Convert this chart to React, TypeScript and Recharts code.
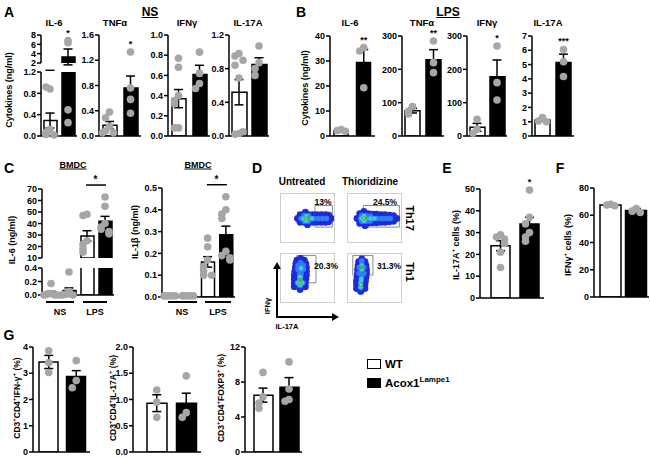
import React from 'react';
import {
  ComposedChart,
  ScatterChart,
  Bar,
  Scatter,
  ErrorBar,
  XAxis,
  YAxis,
  Cell,
  ReferenceArea,
} from 'recharts';

const FONT = '"Liberation Sans", Arial, Helvetica, sans-serif';
const DOT_FILL = '#a6a6a6';
const PAIR = ['#ffffff', '#000000'];
const QUAD = ['#ffffff', '#000000', '#ffffff', '#000000'];

// A: NS cytokines (ng/ml), WT vs Acox1
const nsIl6Mean = [0.29, 3.3];
const nsIl6Sem = [0.14, 1.7];
const nsIl6Dots = [[0.88, 0.92, 0.12, 0.07, 0.03, 0.02], [6.8, 6.35, 0.49, 0.25]];
const nsTnfMean = [0.17, 0.76];
const nsTnfSem = [0.06, 0.19];
const nsTnfDots = [[0.38, 0.29, 0.15, 0.08, 0.05, 0.05], [1.33, 0.76, 0.58, 0.36]];
const nsIfnMean = [0.37, 0.61];
const nsIfnSem = [0.09, 0.09];
const nsIfnDots = [[0.77, 0.68, 0.4, 0.35, 0.32, 0.08, 0.08], [0.83, 0.62, 0.52, 0.47]];
const nsIl17Mean = [0.52, 0.85];
const nsIl17Sem = [0.15, 0.08];
const nsIl17Dots = [[0.98, 0.95, 0.9, 0.84, 0.69, 0.03, 0.02, 0.05], [1.07, 0.87, 0.8, 0.72]];

// B: LPS cytokines (ng/ml)
const lpsIl6Mean = [2.2, 29.4];
const lpsIl6Sem = [0.3, 5.2];
const lpsIl6Dots = [[2.6, 2.2, 1.9], [35.4, 34, 19.3]];
const lpsTnfMean = [76, 229];
const lpsTnfSem = [7, 30];
const lpsTnfDots = [[88, 74, 66], [285, 220, 190]];
const lpsIfnMean = [26, 178];
const lpsIfnSem = [12, 50];
const lpsIfnDots = [[50, 20, 8], [270, 160, 108]];
const lpsIl17Mean = [1.12, 5.15];
const lpsIl17Sem = [0.07, 0.58];
const lpsIl17Dots = [[1.3, 1.05, 1.0], [6.06, 5.2, 4.17]];

// C: BMDC (NS WT, NS KO, LPS WT, LPS KO)
const bmdcIl6Mean = [0.035, 0.065, 29.2, 42];
const bmdcIl6Sem = [0.02, 0.04, 4.5, 4.2];
const bmdcIl6Dots = [
  [0.17, 0.02, 0.01, 0.0, 0.0, 0.0],
  [0.34, 0.05, 0.02, 0.01, 0.0, 0.0],
  [48, 47, 25, 22, 18, 15],
  [63, 55, 40, 37, 35, 33, 31],
];
const bmdcIl1Mean = [0.005, 0.005, 0.161, 0.285];
const bmdcIl1Sem = [0.001, 0.001, 0.024, 0.04];
const bmdcIl1Dots = [
  [0.005, 0.005, 0.005, 0.005],
  [0.005, 0.005, 0.005, 0.005],
  [0.27, 0.23, 0.17, 0.14, 0.12, 0.1, 0.1],
  [0.46, 0.4, 0.38, 0.36, 0.21, 0.19, 0.18, 0.17],
];

// E, F: % cells
const il17CellsMean = [24, 34];
const il17CellsSem = [2.3, 3];
const il17CellsDots = [[29, 28, 27, 25, 21, 14], [49.5, 37, 34, 30, 28, 26]];
const ifnCellsMean = [67.5, 63.5];
const ifnCellsSem = [0.6, 1.5];
const ifnCellsDots = [[68, 67.5, 67], [65, 63, 62]];

// G: in vivo T cell subsets (%)
const cd4IfnMean = [3.43, 2.88];
const cd4IfnSem = [0.25, 0.22];
const cd4IfnDots = [[3.86, 3.4, 3.03], [3.48, 2.72, 2.45]];
const cd4Il17Mean = [0.93, 0.93];
const cd4Il17Sem = [0.16, 0.19];
const cd4Il17Dots = [[1.18, 0.95, 0.66], [1.45, 0.75, 0.66]];
const cd4FoxMean = [6.5, 7.4];
const cd4FoxSem = [0.8, 1.1];
const cd4FoxDots = [[9.1, 6.3, 5.6, 5.0], [10.3, 7.2, 6.0, 5.8]];

// D: flow cytometry events (arbitrary log units, 0-5), per density layer
const th17Untreated = [
  [[1.8, 2.85], [2.2, 2.85], [2.6, 2.85], [3.0, 2.85], [3.4, 2.85], [3.8, 2.85], [4.2, 2.85], [4.5, 2.8],
   [1.8, 2.05], [2.2, 2.05], [2.6, 2.05], [3.0, 2.05], [3.4, 2.05], [3.8, 2.05], [4.2, 2.05], [4.5, 2.1],
   [1.55, 2.45], [4.75, 2.45], [2.3, 3.1], [2.5, 1.8]],
  [[1.9, 2.45], [2.3, 2.45], [2.7, 2.45], [3.1, 2.45], [3.5, 2.45], [3.9, 2.45], [4.3, 2.45], [2.2, 2.75], [2.6, 2.75], [2.2, 2.15], [2.6, 2.15]],
  [[2.1, 2.45], [2.5, 2.45], [2.9, 2.45], [2.4, 2.7], [2.4, 2.2]],
  [[2.35, 2.45], [2.6, 2.5]],
  [[2.35, 2.45]],
];
const th17Thio = [
  [[1.1, 2.95], [1.5, 2.95], [1.9, 2.95], [2.3, 2.9], [2.7, 2.9], [3.1, 2.85], [3.5, 2.85], [3.9, 2.8], [4.3, 2.75],
   [1.1, 1.95], [1.5, 1.95], [1.9, 1.95], [2.3, 2.0], [2.7, 2.0], [3.1, 2.05], [3.5, 2.05], [3.9, 2.1], [4.3, 2.15],
   [0.85, 2.45], [4.6, 2.45], [1.5, 3.2], [1.6, 1.7]],
  [[1.2, 2.45], [1.6, 2.45], [2.0, 2.45], [2.4, 2.45], [2.8, 2.45], [3.2, 2.45], [3.6, 2.45], [4.0, 2.45], [1.3, 2.75], [1.7, 2.75], [2.1, 2.7], [1.3, 2.15], [1.7, 2.15], [2.1, 2.2]],
  [[1.3, 2.45], [1.7, 2.45], [2.1, 2.45], [2.5, 2.45], [1.5, 2.7], [1.5, 2.2]],
  [[1.5, 2.45], [1.7, 2.5]],
  [[1.5, 2.45]],
];
const th1Untreated = [
  [[1.25, 1.6], [1.25, 2.0], [1.25, 2.4], [1.25, 2.8], [1.3, 3.2], [1.35, 3.6], [1.4, 4.0], [1.5, 4.35],
   [2.3, 1.6], [2.3, 2.0], [2.35, 2.4], [2.4, 2.8], [2.4, 3.2], [2.4, 3.6], [2.35, 4.0], [2.2, 4.35],
   [1.8, 1.3], [1.85, 4.55]],
  [[1.8, 1.7], [1.8, 2.1], [1.8, 2.5], [1.85, 2.9], [1.9, 3.3], [1.9, 3.7], [1.85, 4.1], [1.55, 2.0], [2.05, 2.0], [1.6, 3.4], [2.1, 3.4], [1.6, 3.8], [2.1, 3.8]],
  [[1.8, 1.8], [1.8, 2.2], [1.8, 2.6], [1.6, 2.0], [2.0, 2.0], [1.9, 3.5]],
  [[1.8, 2.0], [1.85, 2.3]],
  [[1.8, 2.0]],
];
const th1Thio = [
  [[0.8, 1.4], [0.8, 1.8], [0.8, 2.2], [0.85, 2.6], [0.9, 3.0], [0.9, 3.4], [0.95, 3.8], [1.0, 4.2],
   [1.6, 1.4], [1.6, 1.8], [1.65, 2.2], [1.7, 2.6], [1.75, 3.0], [1.75, 3.4], [1.7, 3.8], [1.6, 4.2],
   [1.2, 1.1], [1.3, 4.5]],
  [[1.2, 1.5], [1.2, 1.9], [1.25, 2.3], [1.3, 2.7], [1.3, 3.1], [1.3, 3.5], [1.3, 3.9], [1.3, 4.3], [1.05, 3.0], [1.5, 3.0], [1.05, 3.6], [1.5, 3.6]],
  [[1.2, 1.6], [1.2, 2.0], [1.25, 2.4], [1.3, 3.4], [1.3, 3.8]],
  [[1.2, 1.8], [1.3, 3.6]],
  [[1.2, 1.8]],
];
const gateTh17Untreated = [3.2, 4.85, 1.55, 3.8];
const gateTh17Thio = [1.45, 4.85, 1.55, 3.8];
const gateTh1Untreated = [1.5, 3.3, 2.0, 4.85];
const gateTh1Thio = [0.45, 2.35, 2.8, 4.85];

const FLOW_LAYERS = [
  { fill: '#1f2ad8', r: 3.4 },
  { fill: '#2f7df5', r: 2.8 },
  { fill: '#3ccbe8', r: 2.3 },
  { fill: '#39b54a', r: 2.1 },
  { fill: '#e4e43a', r: 0.9 },
];

const SPREAD = [0, -4, 4, -7, 7, -2, 2];

function DotShape(props: any) {
  const { cx, cy, payload, starLine } = props;
  if (cx == null || cy == null) return <g />;
  const dx = SPREAD[payload.k % SPREAD.length];
  return (
    <g>
      <circle cx={cx + dx} cy={cy} r={3.8} fill={DOT_FILL} />
      {payload.s && starLine ? (
        <g>
          <line x1={cx - starLine} x2={cx + 1} y1={cy - 12} y2={cy - 12} stroke="#000" strokeWidth={1.5} />
          <text x={cx - starLine / 2} y={cy - 14} textAnchor="middle" fontSize={10} fontWeight={700} fontFamily={FONT}>
            {payload.s}
          </text>
        </g>
      ) : payload.s ? (
        <text x={cx} y={cy - 5} textAnchor="middle" fontSize={9} fontWeight={700} fontFamily={FONT}>
          {payload.s}
        </text>
      ) : null}
    </g>
  );
}

type MiniProps = {
  x: number;
  top: number;
  bottom: number;
  w: number;
  pad?: number;
  domain: [number, number];
  ticks: number[];
  digits?: number;
  means: number[];
  sems: number[];
  dots: number[][];
  fills: string[];
  barW: number;
  star?: string;
  starLine?: number;
  base?: boolean;
};

function MiniBar(p: MiniProps) {
  const axisW = 28;
  const mt = 18;
  const mr = 4;
  const mb = 6;
  const [lo, hi] = p.domain;
  const cats = p.means.map((_, i) => `g${i}`);
  const thr = (hi - lo) * 0.07;
  const last = p.dots.length - 1;
  const topDot = Math.max(...p.dots[last]);
  const bars = p.means.map((m, i) => ({ c: cats[i], m: m >= lo ? m : null }));
  const errs = p.means.map((m, i) => ({ c: cats[i], m, e: p.sems[i] }));
  const pts = p.dots.flatMap((vals, i) =>
    vals
      .map((v, j) => ({
        c: cats[i],
        v,
        k: vals.slice(0, j).filter((u) => Math.abs(u - v) < thr).length,
        s: p.star && i === last && v === topDot ? p.star : null,
      }))
      .filter((d) => d.v >= lo && d.v <= hi)
  );
  const base = p.base !== false;
  const height = p.bottom - p.top + mt + 2 + mb;
  const axisStyle = { stroke: '#000', strokeWidth: 1.5 };
  return (
    <div style={{ position: 'absolute', left: p.x - axisW, top: p.top - mt }}>
      <ComposedChart
        width={axisW + p.w + mr}
        height={height}
        data={bars}
        margin={{ top: mt, right: mr, bottom: mb, left: 0 }}
      >
        <XAxis
          dataKey="c"
          type="category"
          allowDuplicatedCategory={false}
          height={2}
          tick={false}
          tickLine={false}
          axisLine={base ? axisStyle : false}
          padding={{ left: p.pad || 0, right: 0 }}
        />
        <YAxis
          yAxisId="v"
          orientation="left"
          type="number"
          domain={p.domain}
          ticks={p.ticks}
          interval={0}
          width={axisW}
          tickSize={4}
          tickMargin={1}
          axisLine={axisStyle}
          tickLine={axisStyle}
          tickFormatter={(v: number) => v.toFixed(p.digits || 0)}
          tick={{ fontSize: 9, fontWeight: 700, fill: '#000', fontFamily: FONT }}
        />
        <YAxis
          yAxisId="o"
          orientation="right"
          type="number"
          domain={p.domain}
          allowDataOverflow
          width={0}
          tick={false}
          tickLine={false}
          axisLine={false}
        />
        <Bar yAxisId="o" dataKey="m" barSize={p.barW} stroke="#000" strokeWidth={1.5} isAnimationActive={false}>
          {bars.map((b, i) => (
            <Cell key={b.c} fill={p.fills[i]} />
          ))}
        </Bar>
        <Scatter
          yAxisId="v"
          data={pts}
          dataKey="v"
          isAnimationActive={false}
          shape={(s: any) => <DotShape {...s} starLine={p.starLine} />}
        />
        <Scatter yAxisId="o" data={errs} dataKey="m" isAnimationActive={false} shape={() => <g />}>
          <ErrorBar dataKey="e" direction="y" width={4.5} stroke="#000" strokeWidth={1.5} />
        </Scatter>
      </ComposedChart>
    </div>
  );
}

function FlowPlot({ left, top, layers, gate }: { left: number; top: number; layers: number[][][]; gate: number[] }) {
  return (
    <div
      style={{
        position: 'absolute',
        left,
        top,
        width: 55,
        height: 50,
        border: '1px solid #cfcfcf',
        boxSizing: 'border-box',
      }}
    >
      <ScatterChart width={53} height={48} margin={{ top: 0, right: 0, bottom: 0, left: 0 }}>
        <XAxis type="number" dataKey="x" domain={[0, 5]} hide />
        <YAxis type="number" dataKey="y" domain={[0, 5]} hide />
        {layers.map((pts, i) => (
          <Scatter
            key={i}
            data={pts.map(([x, y]) => ({ x, y }))}
            isAnimationActive={false}
            shape={(s: any) => <circle cx={s.cx} cy={s.cy} r={FLOW_LAYERS[i].r} fill={FLOW_LAYERS[i].fill} />}
          />
        ))}
        <ReferenceArea x1={gate[0]} x2={gate[1]} y1={gate[2]} y2={gate[3]} fill="none" stroke="#8c8c8c" strokeWidth={1} />
      </ScatterChart>
    </div>
  );
}

function Txt({ x, y, size = 9, weight = 700, u = false, children }: any) {
  return (
    <div
      style={{
        position: 'absolute',
        left: x,
        top: y,
        transform: 'translate(-50%, -50%)',
        fontSize: size,
        fontWeight: weight,
        textDecoration: u ? 'underline' : 'none',
        whiteSpace: 'nowrap',
        lineHeight: 1,
      }}
    >
      {children}
    </div>
  );
}

function VTxt({ x, y, size = 9, weight = 700, rot = -90, children }: any) {
  return (
    <div
      style={{
        position: 'absolute',
        left: x,
        top: y,
        transform: `translate(-50%, -50%) rotate(${rot}deg)`,
        fontSize: size,
        fontWeight: weight,
        whiteSpace: 'nowrap',
        lineHeight: 1,
      }}
    >
      {children}
    </div>
  );
}

function HLine({ x1, x2, y }: { x1: number; x2: number; y: number }) {
  return <div style={{ position: 'absolute', left: x1, top: y, width: x2 - x1, height: 1.5, background: '#000' }} />;
}

export default function App() {
  return (
    <div
      style={{
        position: 'absolute',
        left: 0,
        top: 0,
        width: 650,
        height: 458,
        overflow: 'hidden',
        background: '#fff',
        fontFamily: FONT,
        color: '#000',
      }}
    >
      {/* Panel A */}
      <Txt x={9} y={12} size={14}>A</Txt>
      <Txt x={150} y={12} size={12} u>NS</Txt>
      <VTxt x={9} y={90} size={9}>Cytokines (ng/ml)</VTxt>
      <Txt x={54} y={23} size={9.5}>IL-6</Txt>
      <Txt x={115} y={23} size={9.5}>TNFα</Txt>
      <Txt x={187} y={23} size={9.5}>IFNγ</Txt>
      <Txt x={248} y={23} size={9.5}>IL-17A</Txt>
      <MiniBar x={41} top={35} bottom={63} w={36} base={false} domain={[2, 8]} ticks={[2, 4, 6, 8]}
        means={nsIl6Mean} sems={nsIl6Sem} dots={nsIl6Dots} fills={PAIR} barW={13} star="*" />
      <MiniBar x={41} top={72} bottom={136} w={36} domain={[0, 1.2]} ticks={[0, 0.4, 0.8, 1.2]} digits={1}
        means={nsIl6Mean} sems={nsIl6Sem} dots={nsIl6Dots} fills={PAIR} barW={13} />
      <MiniBar x={99} top={35} bottom={136} w={42} domain={[0, 1.6]} ticks={[0, 0.4, 0.8, 1.2, 1.6]} digits={1}
        means={nsTnfMean} sems={nsTnfSem} dots={nsTnfDots} fills={PAIR} barW={14} star="*" />
      <MiniBar x={168} top={35} bottom={136} w={42} domain={[0, 1]} ticks={[0, 0.2, 0.4, 0.6, 0.8, 1]} digits={1}
        means={nsIfnMean} sems={nsIfnSem} dots={nsIfnDots} fills={PAIR} barW={14} />
      <MiniBar x={229} top={35} bottom={136} w={40} domain={[0, 1.2]} ticks={[0, 0.4, 0.8, 1.2]} digits={1}
        means={nsIl17Mean} sems={nsIl17Sem} dots={nsIl17Dots} fills={PAIR} barW={15} />

      {/* Panel B */}
      <Txt x={301} y={12} size={14}>B</Txt>
      <Txt x={448} y={12} size={12} u>LPS</Txt>
      <VTxt x={305} y={88} size={9}>Cytokines (ng/ml)</VTxt>
      <Txt x={350} y={23} size={9.5}>IL-6</Txt>
      <Txt x={422} y={23} size={9.5}>TNFα</Txt>
      <Txt x={487} y={23} size={9.5}>IFNγ</Txt>
      <Txt x={548} y={23} size={9.5}>IL-17A</Txt>
      <MiniBar x={330} top={36} bottom={136} w={45} domain={[0, 40]} ticks={[0, 10, 20, 30, 40]}
        means={lpsIl6Mean} sems={lpsIl6Sem} dots={lpsIl6Dots} fills={PAIR} barW={14} star="**" />
      <MiniBar x={402} top={36} bottom={136} w={42} domain={[0, 300]} ticks={[0, 100, 200, 300]}
        means={lpsTnfMean} sems={lpsTnfSem} dots={lpsTnfDots} fills={PAIR} barW={15} star="**" />
      <MiniBar x={467} top={36} bottom={136} w={40} domain={[0, 300]} ticks={[0, 100, 200, 300]}
        means={lpsIfnMean} sems={lpsIfnSem} dots={lpsIfnDots} fills={PAIR} barW={15} star="*" />
      <MiniBar x={532} top={36} bottom={136} w={42} domain={[0, 7]} ticks={[0, 1, 2, 3, 4, 5, 6, 7]}
        means={lpsIl17Mean} sems={lpsIl17Sem} dots={lpsIl17Dots} fills={PAIR} barW={15} star="***" />

      {/* Panel C */}
      <Txt x={9} y={168} size={14}>C</Txt>
      <Txt x={73} y={165} size={9} u>BMDC</Txt>
      <Txt x={198} y={165} size={9} u>BMDC</Txt>
      <VTxt x={12} y={240} size={9}>IL-6 (ng/ml)</VTxt>
      <VTxt x={135} y={232} size={9}>IL-1β (ng/ml)</VTxt>
      <MiniBar x={42} top={189} bottom={258} w={72} base={false} domain={[10, 70]} ticks={[10, 20, 30, 40, 50, 60, 70]}
        means={bmdcIl6Mean} sems={bmdcIl6Sem} dots={bmdcIl6Dots} fills={QUAD} barW={13} star="*" starLine={19} />
      <MiniBar x={42} top={268} bottom={295} w={72} domain={[0, 0.4]} ticks={[0, 0.2, 0.4]} digits={1}
        means={bmdcIl6Mean} sems={bmdcIl6Sem} dots={bmdcIl6Dots} fills={QUAD} barW={13} />
      <MiniBar x={162} top={188} bottom={297} w={73} domain={[0, 0.5]} ticks={[0, 0.1, 0.2, 0.3, 0.4, 0.5]} digits={1}
        means={bmdcIl1Mean} sems={bmdcIl1Sem} dots={bmdcIl1Dots} fills={QUAD} barW={13} star="*" starLine={19} />
      <HLine x1={46} x2={74} y={301} />
      <HLine x1={83} x2={107} y={301} />
      <Txt x={60} y={312} size={9}>NS</Txt>
      <Txt x={95} y={312} size={9}>LPS</Txt>
      <HLine x1={168} x2={197} y={301} />
      <HLine x1={205} x2={231} y={301} />
      <Txt x={182} y={312} size={9}>NS</Txt>
      <Txt x={218} y={312} size={9}>LPS</Txt>

      {/* Panel D */}
      <Txt x={257} y={168} size={14}>D</Txt>
      <Txt x={302} y={182} size={10}>Untreated</Txt>
      <Txt x={370} y={182} size={10}>Thioridizine</Txt>
      <FlowPlot left={280} top={193} layers={th17Untreated} gate={gateTh17Untreated} />
      <FlowPlot left={347} top={193} layers={th17Thio} gate={gateTh17Thio} />
      <FlowPlot left={280} top={253} layers={th1Untreated} gate={gateTh1Untreated} />
      <FlowPlot left={347} top={253} layers={th1Thio} gate={gateTh1Thio} />
      <Txt x={323} y={202} size={8.5}>13%</Txt>
      <Txt x={385} y={202} size={8.5}>24.5%</Txt>
      <Txt x={326} y={266} size={8.5}>20.3%</Txt>
      <Txt x={389} y={266} size={8.5}>31.3%</Txt>
      <VTxt x={409} y={218} size={11} rot={90}>Th17</VTxt>
      <VTxt x={409} y={272} size={11} rot={90}>Th1</VTxt>
      <svg width={650} height={458} style={{ position: 'absolute', left: 0, top: 0, pointerEvents: 'none' }}>
        <line x1={277} y1={318} x2={277} y2={268} stroke="#000" strokeWidth={2} />
        <polygon points="273,269 281,269 277,262" fill="#000" />
        <line x1={276} y1={317} x2={333} y2={317} stroke="#000" strokeWidth={2} />
        <polygon points="332,313 332,321 339,317" fill="#000" />
      </svg>
      <VTxt x={268} y={306} size={7.5}>IFNγ</VTxt>
      <Txt x={287} y={327} size={7.5}>IL-17A</Txt>

      {/* Panel E, F */}
      <Txt x={447} y={168} size={14}>E</Txt>
      <VTxt x={455} y={245} size={9}>IL-17A<sup style={{ fontSize: 6 }}>+</sup> cells (%)</VTxt>
      <MiniBar x={480} top={189} bottom={298} w={64} pad={6} domain={[0, 50]} ticks={[0, 10, 20, 30, 40, 50]}
        means={il17CellsMean} sems={il17CellsSem} dots={il17CellsDots} fills={PAIR} barW={19} star="*" />
      <Txt x={560} y={168} size={14}>F</Txt>
      <VTxt x={567} y={245} size={9}>IFNγ<sup style={{ fontSize: 6 }}>+</sup> cells (%)</VTxt>
      <MiniBar x={594} top={188} bottom={297} w={55} pad={4} domain={[0, 80]} ticks={[0, 20, 40, 60, 80]}
        means={ifnCellsMean} sems={ifnCellsSem} dots={ifnCellsDots} fills={PAIR} barW={21} />

      {/* Panel G */}
      <Txt x={9} y={335} size={14}>G</Txt>
      <VTxt x={16} y={398} size={8.5}>
        CD3<sup style={{ fontSize: 6 }}>+</sup>CD4<sup style={{ fontSize: 6 }}>+</sup>IFN-γ<sup style={{ fontSize: 6 }}>+</sup> (%)
      </VTxt>
      <MiniBar x={33} top={347} bottom={452} w={57} pad={2} domain={[0, 4]} ticks={[0, 1, 2, 3, 4]}
        means={cd4IfnMean} sems={cd4IfnSem} dots={cd4IfnDots} fills={PAIR} barW={19} />
      <VTxt x={112} y={398} size={8.5}>
        CD3<sup style={{ fontSize: 6 }}>+</sup>CD4<sup style={{ fontSize: 6 }}>+</sup>IL-17A<sup style={{ fontSize: 6 }}>+</sup> (%)
      </VTxt>
      <MiniBar x={133} top={347} bottom={452} w={68} pad={9} domain={[0, 2]} ticks={[0, 0.5, 1, 1.5, 2]} digits={1}
        means={cd4Il17Mean} sems={cd4Il17Sem} dots={cd4Il17Dots} fills={PAIR} barW={20} />
      <VTxt x={220} y={398} size={8.5}>
        CD3<sup style={{ fontSize: 6 }}>+</sup>CD4<sup style={{ fontSize: 6 }}>+</sup>FOXP3<sup style={{ fontSize: 6 }}>+</sup> (%)
      </VTxt>
      <MiniBar x={245} top={347} bottom={452} w={57} pad={5} domain={[0, 12]} ticks={[0, 4, 8, 12]}
        means={cd4FoxMean} sems={cd4FoxSem} dots={cd4FoxDots} fills={PAIR} barW={19} />

      {/* Legend */}
      <div style={{ position: 'absolute', left: 367, top: 359, width: 14, height: 10, border: '1.5px solid #000', boxSizing: 'border-box', background: '#fff' }} />
      <div style={{ position: 'absolute', left: 385, top: 358, fontSize: 11.5, fontWeight: 700, lineHeight: '12px' }}>WT</div>
      <div style={{ position: 'absolute', left: 367, top: 378, width: 14, height: 10, background: '#000' }} />
      <div style={{ position: 'absolute', left: 385, top: 377, fontSize: 11.5, fontWeight: 700, lineHeight: '12px', whiteSpace: 'nowrap' }}>
        Acox1<sup style={{ fontSize: 8, verticalAlign: 5, lineHeight: 0 }}>Lampe1</sup>
      </div>
    </div>
  );
}
